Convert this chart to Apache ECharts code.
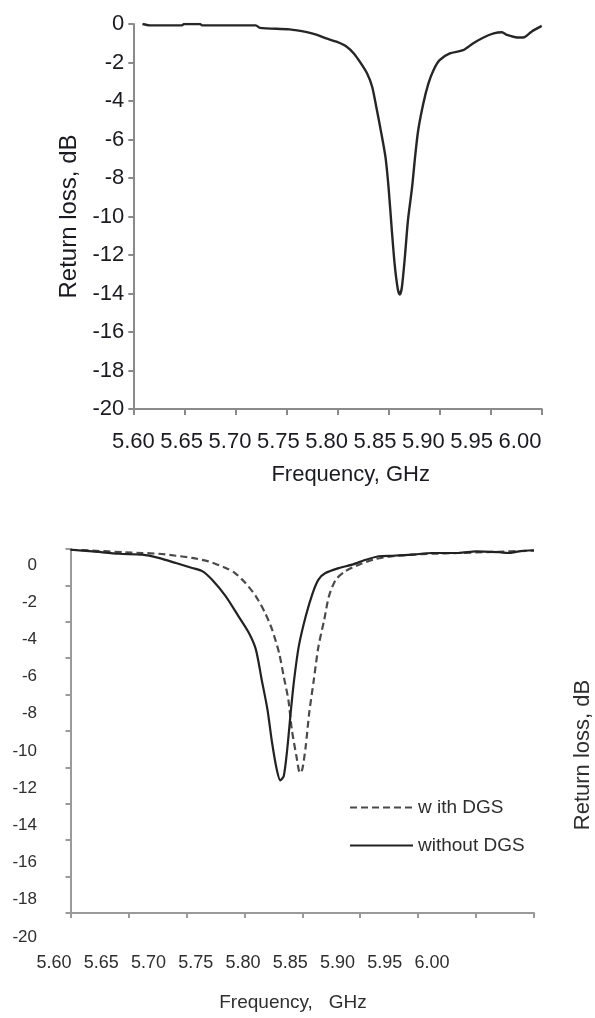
<!DOCTYPE html>
<html><head><meta charset="utf-8">
<script src="https://cdn.jsdelivr.net/npm/echarts@6/dist/echarts.min.js"></script>
<style>html,body{margin:0;padding:0;background:#fff}#c{width:595px;height:1018px}</style>
</head><body><div id="c"></div>
<script>
// ---- data ----
const topFreq = [5.609,5.616,5.647,5.650,5.665,5.668,5.720,5.724,5.753,5.770,5.780,5.789,5.799,5.809,5.816,5.822,5.829,5.834,5.838,5.843,5.847,5.850,5.853,5.856,5.859,5.861,5.863,5.866,5.869,5.873,5.876,5.879,5.884,5.889,5.894,5.900,5.910,5.923,5.933,5.943,5.953,5.961,5.966,5.976,5.982,5.990,6.000];
const topRL   = [0,-0.07,-0.07,0,0,-0.07,-0.07,-0.2,-0.28,-0.42,-0.56,-0.75,-0.92,-1.18,-1.53,-1.97,-2.57,-3.27,-4.31,-5.70,-6.92,-8.49,-10.57,-12.49,-13.75,-14.05,-13.70,-12.10,-10.20,-8.50,-6.90,-5.53,-4.14,-3.10,-2.40,-1.88,-1.53,-1.36,-1.00,-0.70,-0.49,-0.43,-0.57,-0.70,-0.70,-0.40,-0.10];

const withFreq = [5.600,5.619,5.647,5.662,5.676,5.691,5.705,5.719,5.734,5.742,5.751,5.760,5.768,5.774,5.780,5.784,5.788,5.791,5.795,5.798,5.800,5.803,5.806,5.810,5.814,5.819,5.823,5.829,5.837,5.849,5.863,5.878,5.895,5.912,5.935,5.964,6.000];
const withRL   = [-0.04,-0.09,-0.18,-0.22,-0.26,-0.37,-0.49,-0.68,-1.04,-1.32,-1.87,-2.60,-3.52,-4.43,-5.71,-7.00,-8.28,-9.93,-11.39,-12.31,-12.12,-10.84,-9.01,-7.18,-5.35,-3.88,-2.60,-1.68,-1.23,-0.86,-0.55,-0.40,-0.31,-0.26,-0.22,-0.16,-0.09];

const withoutFreq = [5.600,5.619,5.642,5.662,5.676,5.691,5.705,5.714,5.722,5.734,5.745,5.754,5.760,5.765,5.770,5.774,5.778,5.781,5.784,5.787,5.790,5.793,5.797,5.803,5.809,5.814,5.820,5.832,5.843,5.855,5.866,5.878,5.895,5.912,5.935,5.950,5.970,5.978,5.987,6.000];
const withoutRL   = [-0.04,-0.13,-0.26,-0.31,-0.49,-0.77,-1.04,-1.23,-1.68,-2.60,-3.70,-4.62,-5.53,-7.18,-8.83,-10.66,-12.12,-12.71,-12.49,-11.03,-9.01,-7.18,-5.35,-3.70,-2.42,-1.68,-1.32,-1.04,-0.86,-0.59,-0.40,-0.37,-0.31,-0.22,-0.22,-0.13,-0.18,-0.22,-0.13,-0.07];

const freqMin = 5.60, freqMax = 6.00, freqStep = 0.05;
const rlMin = -20, rlMax = 0, rlStep = 2;
const xTitleTop = 'Frequency, GHz';
const xTitleBottom = 'Frequency,   GHz';
const yTitle = 'Return loss, dB';
const legendNames = ['w ith DGS', 'without DGS'];

function pairs(xs, ys) { return xs.map((x, i) => [x, ys[i]]); }

const F  = "'Liberation Sans', Arial, Helvetica, sans-serif";
const TXT = '#1a1a22';
const TXT2 = '#2e2e2e';
const AX1 = '#8a8a8a', AX2 = '#9a9a9a';
const fmt2 = v => v.toFixed(2);

const hidden = (gi, isX) => ({ gridIndex: gi, type: 'value', show: false, min: isX ? 0 : rlMin, max: isX ? 1 : rlMax });

const chart = echarts.init(document.getElementById('c'), null, { renderer: 'canvas' });
chart.setOption({
  animation: false,
  backgroundColor: '#fff',
  grid: [
    { left: 133.3, top: 24,  width: 408.4, height: 385, outerBoundsMode: 'none' },
    { left: 133.3, top: 24,  width: 386.7, height: 385, outerBoundsMode: 'none' },
    { left: 70.5,  top: 549, width: 463.5, height: 364, outerBoundsMode: 'none' },
    { left: 54,    top: 549, width: 378,   height: 364, outerBoundsMode: 'none' },
    { left: 45,    top: 565, width: 10,    height: 372, outerBoundsMode: 'none' },
    { left: 70.5,  top: 600, width: 463.5, height: 310, outerBoundsMode: 'none' }
  ],
  xAxis: [
    { gridIndex: 0, type: 'value', min: freqMin, max: freqMax, interval: freqStep,
      axisLine: { show: true, onZero: false, lineStyle: { color: AX1, width: 2 } },
      axisTick: { show: true, inside: false, length: 6, lineStyle: { color: AX1, width: 2 } },
      axisLabel: { show: false }, splitLine: { show: false } },
    { gridIndex: 1, type: 'value', min: freqMin, max: freqMax, interval: freqStep,
      axisLine: { show: false }, axisTick: { show: false }, splitLine: { show: false },
      axisLabel: { show: true, margin: 22, fontSize: 22, fontFamily: F, color: TXT, formatter: fmt2, hideOverlap: false },
      name: xTitleTop, nameLocation: 'middle', nameGap: 55,
      nameTextStyle: { fontSize: 22, fontFamily: F, color: TXT, padding: [0, 0, 0, 48] } },
    { gridIndex: 2, type: 'value', min: freqMin, max: freqMax, interval: freqStep,
      axisLine: { show: true, onZero: false, lineStyle: { color: AX2, width: 2 } },
      axisTick: { show: true, inside: false, length: 5, lineStyle: { color: AX2, width: 2 } },
      axisLabel: { show: false }, splitLine: { show: false } },
    { gridIndex: 3, type: 'value', min: freqMin, max: freqMax, interval: freqStep,
      axisLine: { show: false }, axisTick: { show: false }, splitLine: { show: false },
      axisLabel: { show: true, margin: 41, fontSize: 18, fontFamily: F, color: TXT2, formatter: fmt2, hideOverlap: false },
      name: xTitleBottom, nameLocation: 'middle', nameGap: 80,
      nameTextStyle: { fontSize: 19, fontFamily: F, color: TXT2, padding: [0, 0, 0, 100] } },
    hidden(4, true),
    hidden(5, true)
  ],
  yAxis: [
    { gridIndex: 0, type: 'value', min: rlMin, max: rlMax, interval: rlStep,
      axisLine: { show: true, onZero: false, lineStyle: { color: AX1, width: 2 } },
      axisTick: { show: true, inside: false, length: 5, lineStyle: { color: AX1, width: 2 } },
      axisLabel: { show: true, margin: 9, fontSize: 22, fontFamily: F, color: TXT, hideOverlap: false },
      splitLine: { show: false },
      name: yTitle, nameLocation: 'middle', nameRotate: 90, nameGap: 43,
      nameTextStyle: { fontSize: 24, fontFamily: F, color: TXT } },
    hidden(1, false),
    { gridIndex: 2, type: 'value', min: rlMin, max: rlMax, interval: rlStep,
      axisLine: { show: true, onZero: false, lineStyle: { color: AX2, width: 2 } },
      axisTick: { show: true, inside: false, length: 5, lineStyle: { color: AX2, width: 2 } },
      axisLabel: { show: false }, splitLine: { show: false } },
    hidden(3, false),
    { gridIndex: 4, type: 'value', min: rlMin, max: rlMax, interval: rlStep,
      axisLine: { show: false }, axisTick: { show: false }, splitLine: { show: false },
      axisLabel: { show: true, margin: 8, fontSize: 17, fontFamily: F, color: TXT2, hideOverlap: false } },
    { gridIndex: 5, type: 'value', position: 'right', min: rlMin, max: rlMax,
      axisLine: { show: false }, axisTick: { show: false }, axisLabel: { show: false }, splitLine: { show: false },
      name: yTitle, nameLocation: 'middle', nameRotate: 90, nameGap: 38,
      nameTextStyle: { fontSize: 22, fontFamily: F, color: TXT2 } }
  ],
  legend: {
    data: legendNames, orient: 'vertical', left: 344, top: 793,
    itemWidth: 63, itemHeight: 14, itemGap: 19,
    itemStyle: { opacity: 0 },
    textStyle: { fontSize: 19, fontFamily: F, color: TXT2 },
    selectedMode: false
  },
  series: [
    { name: 'Return loss', type: 'line', xAxisIndex: 0, yAxisIndex: 0,
      data: pairs(topFreq, topRL), symbol: 'none', smooth: 0.25,
      lineStyle: { color: '#262626', width: 2.4 } },
    { name: legendNames[0], type: 'line', xAxisIndex: 2, yAxisIndex: 2,
      data: pairs(withFreq, withRL), symbol: 'none', smooth: 0.25,
      itemStyle: { color: '#4a4a4a' },
      lineStyle: { color: '#4a4a4a', width: 2.2, type: [7, 4] } },
    { name: legendNames[1], type: 'line', xAxisIndex: 2, yAxisIndex: 2,
      data: pairs(withoutFreq, withoutRL), symbol: 'none', smooth: 0.25,
      itemStyle: { color: '#222' },
      lineStyle: { color: '#222', width: 2.2 } }
  ]
});
</script>
</body></html>
